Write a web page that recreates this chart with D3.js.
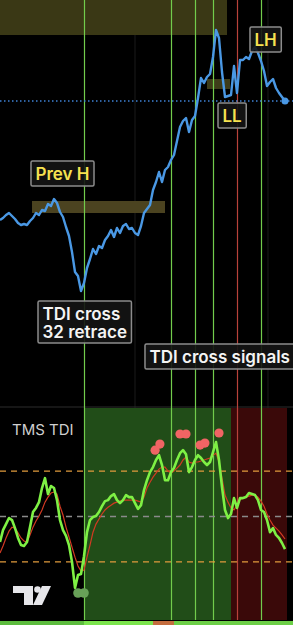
<!DOCTYPE html>
<html lang="en">
<head>
<meta charset="UTF-8">
<title>TMS TDI chart</title>
<style>
    body { margin: 0; background: #000; }
    svg { display: block; }
    .lbl { font-family: Inter, "Noto Sans", sans-serif; font-size: 17px; font-weight: 600; }
    .tms { font-family: Inter, "Noto Sans", sans-serif; font-size: 15px; fill: #cfcfcf; }
</style>
</head>
<body>
<svg width="293" height="625"></svg>
<script src="https://d3js.org/d3.v7.min.js"></script>
<script>
// price closes, one per bar
var price = [2346.5, 2347, 2347.75, 2348.25, 2347.5, 2346.75, 2345.75, 2345.25, 2345.5, 2345.25,
    2346.25, 2347, 2348.25, 2347.75, 2349, 2348.75, 2350.5, 2350, 2351.75, 2350.75,
    2348.5, 2347.25, 2344.75, 2342.5, 2338.5, 2333.5, 2332.5, 2328.75, 2330.75, 2334.5,
    2336.75, 2339.25, 2338, 2340, 2339.5, 2341.5, 2342.5, 2344, 2342.25, 2344.5,
    2343.25, 2345, 2345.5, 2344.25, 2344.5, 2343.25, 2342.75, 2345, 2348.25, 2349.25,
    2350.25, 2354, 2356, 2358.5, 2356, 2359, 2359.75, 2361.5, 2362.75, 2366.25,
    2369.75, 2371.25, 2372, 2368.5, 2371.5, 2372.5, 2377, 2382, 2380.75, 2382.25,
    2383, 2387.25, 2394, 2392, 2383.5, 2377.25, 2377.5, 2377.75, 2385, 2378.25,
    2386.5, 2386.5, 2387.25, 2386.75, 2388.75, 2389.75, 2388.25, 2386.25, 2383.75, 2380,
    2381, 2381.75, 2379.5, 2378.25, 2377.25, 2376.25];

// TDI fast (green) and signal (red) lines
var tdiFast = [39.9, 44.6, 47.0, 49.4, 48.6, 45.4, 41.5, 38.7, 38.3, 39.9,
    45.8, 51.8, 53.4, 55.7, 61.3, 65.2, 58.9, 62.1, 61.3, 56.5,
    48.6, 44.6, 42.3, 38.7, 32.0, 21.7, 26.8, 27.2, 34.3, 43.8,
    48.6, 49.8, 50.2, 51.8, 54.1, 56.1, 56.5, 58.1, 58.9, 56.5,
    55.3, 56.5, 58.5, 57.7, 57.7, 55.3, 53.0, 54.5, 60.5, 64.4,
    67.6, 69.6, 72.4, 74.3, 70.4, 64.4, 64.4, 67.6, 69.2, 72.4,
    75.1, 76.3, 74.7, 67.6, 69.6, 72.4, 74.3, 73.2, 71.6, 70.4,
    71.6, 75.5, 79.5, 72.4, 61.7, 52.6, 49.4, 51.0, 57.3, 53.4,
    57.3, 57.3, 57.7, 59.3, 58.9, 58.5, 56.5, 52.6, 51.8, 48.6,
    43.8, 45.4, 42.7, 41.5, 39.5, 37.1];
var tdiSignal = [35.5, 38.3, 41.5, 44.2, 45.8, 45.4, 43.5, 41.5, 40.3, 39.9,
    42.7, 45.8, 48.2, 50.2, 52.6, 55.7, 57.7, 59.3, 59.7, 58.9,
    54.1, 50.6, 45.8, 41.9, 37.9, 33.9, 30.4, 28.4, 28.8, 33.9,
    38.7, 43.8, 47.0, 49.0, 51.0, 52.6, 53.7, 54.5, 55.3, 55.7,
    56.1, 56.5, 56.5, 56.5, 56.5, 56.5, 56.1, 55.7, 57.7, 61.3,
    63.6, 65.6, 67.2, 68.8, 69.6, 69.6, 68.0, 67.2, 68.0, 69.2,
    70.4, 72.4, 73.5, 71.6, 71.2, 71.6, 71.6, 72.0, 72.4, 72.8,
    73.2, 74.3, 75.1, 71.6, 65.2, 58.5, 55.7, 53.4, 52.6, 54.5,
    56.9, 57.3, 57.7, 58.1, 58.5, 58.5, 57.7, 56.1, 54.1, 51.0,
    48.6, 46.6, 45.4, 44.2, 42.7, 41.1];

var tdiLevels = [68, 50, 32];
var levelKinds = ["band", "mid", "band"];

// overbought / oversold markers (bar, value)
var sellDotBars = [51.7, 53.3, 60, 62, 66.7, 68.3, 73];
var sellDotVals = [76.3, 78.7, 82.7, 82.7, 78.3, 79.1, 83.1];
var buyDotBars = [26, 28];
var buyDotVals = [19.7, 19.7];

var greenSignals = [28, 57, 65, 71, 87];
var redSignals = [79];
var gridBars = [45, 89.33];

// supply/demand zones on price
var zoneFrom = [0, 69, 10.67];
var zoneTo = [75.67, 76.67, 55];
var zoneHigh = [2401.5, 2381.75, 2351.25];
var zoneLow = [2392.75, 2379.25, 2348.25];

// TDI background regimes
var regimeFrom = [28, 77];
var regimeTo = [77, 95.67];
var regimeKind = ["bull", "bear"];

// bottom strip
var stripFrom = [0, 28, 51, 58];
var stripTo = [28, 51, 58, 97.67];
var stripKind = ["g", "lg", "o", "g2"];

var notes = [
    { lines: ["LH"], bar: 83.33, price: 2394.75, kind: "y" },
    { lines: ["LL"], bar: 72.67, price: 2375.75, kind: "y" },
    { lines: ["Prev H"], bar: 10.33, price: 2361.25, kind: "y" },
    { lines: ["TDI cross", "32 retrace"], bar: 12.67, price: 2326.25, kind: "w" },
    { lines: ["TDI cross signals"], bar: 48.33, price: 2315.5, kind: "w" }
];

var svg = d3.select("svg");
var W = 293, topH = 406, tdiTop = 408, tdiBot = 620;

var x = d3.scaleLinear().domain([0, 96]).range([0, 288]);
var yP = d3.scaleLinear().domain([2300, 2401.5]).range([topH, 0]);
var yT = d3.scaleLinear().domain([9, 93]).range([tdiBot, tdiTop]);

// grid
svg.append("g").selectAll("line").data(gridBars).enter().append("line")
    .attr("x1", d => x(d)).attr("x2", d => x(d))
    .attr("y1", 0).attr("y2", tdiBot)
    .attr("stroke", "#1a1a1a").attr("stroke-width", 1);

svg.append("line").attr("x1", 0).attr("x2", W).attr("y1", 407).attr("y2", 407)
    .attr("stroke", "#2c2c2c").attr("stroke-width", 1);

// zones
var zoneFill = ["#3a3815", "#3e3c19", "#4b4320"];
svg.append("g").selectAll("rect").data(zoneFrom).enter().append("rect")
    .attr("x", (d, i) => x(d))
    .attr("width", (d, i) => x(zoneTo[i]) - x(d))
    .attr("y", (d, i) => yP(zoneHigh[i]))
    .attr("height", (d, i) => yP(zoneLow[i]) - yP(zoneHigh[i]))
    .attr("fill", (d, i) => zoneFill[i]);

// regimes
var regimeColor = { bull: "#214d18", bear: "#3a0909" };
svg.append("g").selectAll("rect").data(regimeFrom).enter().append("rect")
    .attr("x", d => x(d))
    .attr("width", (d, i) => x(regimeTo[i]) - x(d))
    .attr("y", tdiTop).attr("height", tdiBot - tdiTop)
    .attr("fill", (d, i) => regimeColor[regimeKind[i]]);

// signal verticals
svg.append("g").selectAll("line").data(greenSignals).enter().append("line")
    .attr("x1", d => x(d) + 0.5).attr("x2", d => x(d) + 0.5)
    .attr("y1", 0).attr("y2", tdiBot)
    .attr("stroke", "#72cc4c").attr("stroke-width", 1.2);
svg.append("g").selectAll("line").data(redSignals).enter().append("line")
    .attr("x1", d => x(d) + 0.5).attr("x2", d => x(d) + 0.5)
    .attr("y1", 0).attr("y2", tdiBot)
    .attr("stroke", "#b8423a").attr("stroke-width", 1.2);

// last price dotted line
var last = price[price.length - 1];
svg.append("line")
    .attr("x1", 0).attr("x2", W)
    .attr("y1", yP(last)).attr("y2", yP(last))
    .attr("stroke", "#3f82d6").attr("stroke-width", 1.4)
    .attr("stroke-dasharray", "1.5,2.5");

// price line
svg.append("path").datum(price)
    .attr("fill", "none").attr("stroke", "#4a98e4").attr("stroke-width", 2.4)
    .attr("stroke-linejoin", "round")
    .attr("d", d3.line().x((d, i) => x(i)).y(d => yP(d)));

svg.append("circle")
    .attr("cx", x(price.length - 1)).attr("cy", yP(last)).attr("r", 3.5)
    .attr("fill", "#4a98e4");

// TDI levels
svg.append("g").selectAll("line").data(tdiLevels).enter().append("line")
    .attr("x1", 0).attr("x2", W)
    .attr("y1", d => yT(d)).attr("y2", d => yT(d))
    .attr("stroke", (d, i) => levelKinds[i] == "mid" ? "#8a8a8a" : "#e09a3c")
    .attr("stroke-width", 1.3)
    .attr("stroke-dasharray", "6,5");

svg.append("text").attr("class", "tms").attr("x", 12).attr("y", 435).text("TMS TDI");

// TDI lines
svg.append("path").datum(tdiSignal)
    .attr("fill", "none").attr("stroke", "#d23a22").attr("stroke-width", 1.2)
    .attr("d", d3.line().x((d, i) => x(i)).y(d => yT(d)));
svg.append("path").datum(tdiFast)
    .attr("fill", "none").attr("stroke", "#7ef044").attr("stroke-width", 2.6)
    .attr("stroke-linejoin", "round")
    .attr("d", d3.line().x((d, i) => x(i)).y(d => yT(d)));

// markers
svg.append("g").selectAll("circle").data(sellDotBars).enter().append("circle")
    .attr("cx", d => x(d)).attr("cy", (d, i) => yT(sellDotVals[i]))
    .attr("r", 4.6).attr("fill", "#f06464");
svg.append("g").selectAll("circle").data(buyDotBars).enter().append("circle")
    .attr("cx", d => x(d)).attr("cy", (d, i) => yT(buyDotVals[i]))
    .attr("r", 4.8).attr("fill", "#68a058");

// bottom strip
var stripColor = { g: "#5cbc3e", lg: "#7be44d", o: "#c46c3e", g2: "#6ccf47" };
svg.append("g").selectAll("rect").data(stripFrom).enter().append("rect")
    .attr("x", d => x(d))
    .attr("width", (d, i) => x(stripTo[i]) - x(d))
    .attr("y", 621).attr("height", 4)
    .attr("fill", (d, i) => stripColor[stripKind[i]]);

// tradingview mark
var tv = svg.append("g").attr("fill", "#e6e6ea");
tv.append("path").attr("d", "M13,586 H33 V605 H24 V593 H13 Z");
tv.append("circle").attr("cx", 37.5).attr("cy", 589.5).attr("r", 3.3);
tv.append("path").attr("d", "M42,586 H51 L42,605 H33 Z");

// annotations
notes.forEach(function (n) {
    var g = svg.append("g");
    var bx = x(n.bar), by = yP(n.price);
    var rect = g.append("rect");
    var t = g.append("text").attr("class", "lbl")
        .attr("fill", n.kind == "y" ? "#f6e250" : "#f4f4f4");
    n.lines.forEach(function (s, k) {
        t.append("tspan").attr("x", bx + 4.5).attr("y", by + 18.5 + k * 18).text(s);
    });
    var w = d3.max(t.selectAll("tspan").nodes(), nd => nd.getComputedTextLength());
    rect.attr("x", bx).attr("y", by)
        .attr("width", w + 9).attr("height", 25 + (n.lines.length - 1) * 17)
        .attr("rx", 1.5)
        .attr("fill", "#141414").attr("fill-opacity", 0.9)
        .attr("stroke", "#8c8c8c").attr("stroke-width", 1.5);
});
</script>
</body>
</html>
